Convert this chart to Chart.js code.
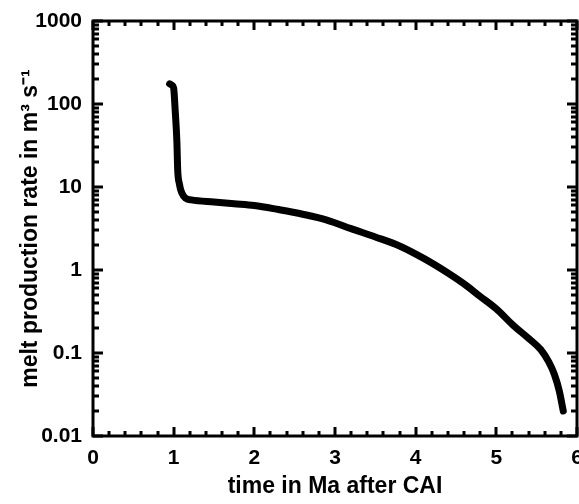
<!DOCTYPE html>
<html>
<head>
<meta charset="utf-8">
<script src="https://cdn.jsdelivr.net/npm/chart.js@4/dist/chart.umd.min.js"></script>
<style>
  html, body { margin: 0; padding: 0; background: #fff; }
  #wrap { width: 579px; height: 504px; }
</style>
</head>
<body>
<div id="wrap"><canvas id="meltChart" width="579" height="504"></canvas></div>
<script>
// time after CAI (Ma) and melt production rate (m^3/s)
const timeMa = [0.95, 0.98, 1.0, 1.02, 1.04, 1.05, 1.07, 1.1, 1.15, 1.22, 1.5, 1.75, 2.0,
  2.3, 2.6, 2.9, 3.2, 3.5, 3.8, 4.1, 4.4, 4.6, 4.8, 5.0, 5.2, 5.4, 5.55, 5.65, 5.72, 5.78, 5.83];
const meltRate = [175, 168, 155, 80, 35, 16, 11, 8.5, 7.3, 7.0, 6.6, 6.3, 6.0,
  5.35, 4.7, 4.0, 3.15, 2.5, 1.95, 1.38, 0.92, 0.68, 0.48, 0.34, 0.22, 0.15, 0.11, 0.078, 0.055, 0.035, 0.02];

const xTicks = [0, 1, 2, 3, 4, 5, 6];
const yTicks = [0.01, 0.1, 1, 10, 100, 1000];
const yTickLabels = ['0.01', '0.1', '1', '10', '100', '1000'];

const FONT = 'Liberation Sans, Arial, Helvetica, sans-serif';

const points = timeMa.map((t, i) => ({ x: t, y: meltRate[i] }));

// frame + inward ticks on all four sides
const frameTicks = {
  id: 'frameTicks',
  afterDraw(chart) {
    const { ctx, chartArea: a, scales: { x, y } } = chart;
    ctx.save();
    ctx.strokeStyle = '#000';
    ctx.lineWidth = 3;
    ctx.lineCap = 'butt';
    ctx.beginPath();
    // x ticks, majors at integers, minors every 0.2
    for (let i = 0; i <= 30; i++) {
      const v = i / 5;
      const px = Math.round(x.getPixelForValue(v));
      const len = (i % 5 === 0) ? 9 : 5;
      ctx.moveTo(px, a.bottom); ctx.lineTo(px, a.bottom - len);
      ctx.moveTo(px, a.top); ctx.lineTo(px, a.top + len);
    }
    // y ticks, decades and 2..9
    for (let d = 0; d < yTicks.length; d++) {
      const dec = yTicks[d];
      for (let m = 1; m <= 9; m++) {
        const v = dec * m;
        if (v > 1000) break;
        const py = Math.round(y.getPixelForValue(v));
        const len = m === 1 ? 10 : 6;
        ctx.moveTo(a.left, py); ctx.lineTo(a.left + len, py);
        ctx.moveTo(a.right, py); ctx.lineTo(a.right - len, py);
      }
    }
    ctx.stroke();
    ctx.strokeRect(a.left, a.top, a.right - a.left, a.bottom - a.top);
    ctx.restore();
  }
};

new Chart(document.getElementById('meltChart'), {
  type: 'line',
  data: {
    datasets: [{
      data: points,
      borderColor: '#000',
      borderWidth: 7,
      pointRadius: 0,
      cubicInterpolationMode: 'monotone',
      borderCapStyle: 'round',
      borderJoinStyle: 'round',
      fill: false
    }]
  },
  options: {
    responsive: false,
    animation: false,
    events: [],
    layout: { padding: { left: 0, top: 21, right: 2, bottom: 0 } },
    plugins: { legend: { display: false }, tooltip: { enabled: false } },
    scales: {
      x: {
        type: 'linear',
        min: 0, max: 6,
        grid: { display: false, drawTicks: false },
        border: { display: false },
        afterBuildTicks(s) { s.ticks = xTicks.map(v => ({ value: v })); },
        afterFit(s) { s.height = 68; s.paddingLeft = 0; s.paddingRight = 0; },
        ticks: {
          color: '#000', padding: 10, maxRotation: 0, autoSkip: false,
          font: { family: FONT, size: 21, weight: 'bold' },
          callback: v => String(v)
        },
        title: {
          display: true, text: 'time in Ma after CAI', color: '#000',
          font: { family: FONT, size: 23, weight: 'bold' },
          padding: { top: 0, bottom: 4 }
        }
      },
      y: {
        type: 'logarithmic',
        min: 0.01, max: 1000,
        grid: { display: false, drawTicks: false },
        border: { display: false },
        afterBuildTicks(s) { s.ticks = yTicks.map(v => ({ value: v })); },
        afterFit(s) { s.width = 93; s.paddingTop = 0; s.paddingBottom = 0; },
        ticks: {
          color: '#000', padding: 11, autoSkip: false,
          font: { family: FONT, size: 21, weight: 'bold' },
          callback: (v) => { const i = yTicks.indexOf(v); return i >= 0 ? yTickLabels[i] : ''; }
        },
        title: {
          display: true, text: 'melt production rate in m\u00B3 s\u207B\u00B9', color: '#000',
          font: { family: FONT, size: 23, weight: 'bold' },
          padding: { top: 17, bottom: 0 }
        }
      }
    }
  },
  plugins: [frameTicks]
});
</script>
</body>
</html>
